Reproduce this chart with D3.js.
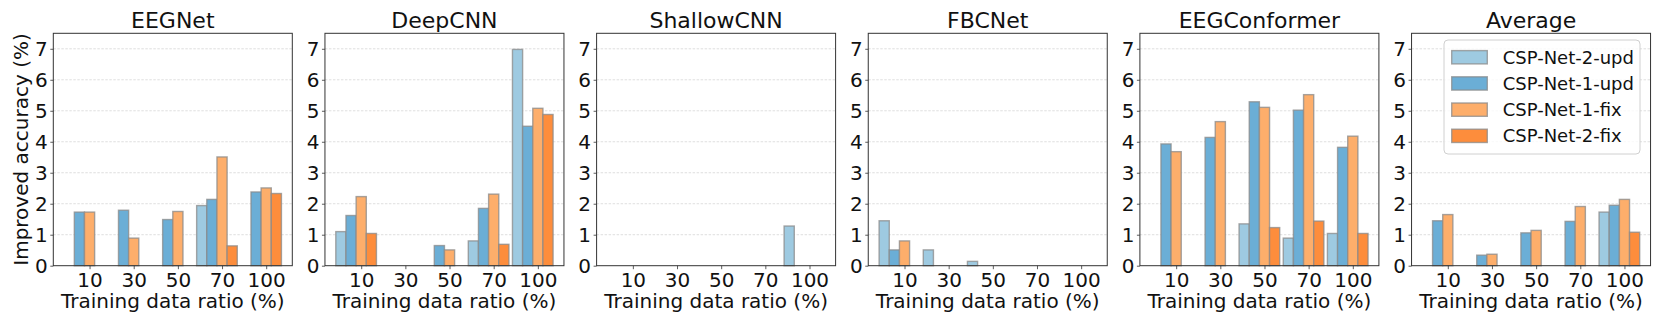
<!DOCTYPE html>
<html>
<head>
<meta charset="utf-8">
<script src="https://cdn.jsdelivr.net/npm/d3@7"></script>
<style>
  body { margin: 0; background: #fff; }
  text { font-family: "DejaVu Sans", sans-serif; fill: #111; }
</style>
</head>
<body>
<div id="chart"></div>
<script>
// categories
const ratios = ['10', '30', '50', '70', '100'];
const seriesNames = ['CSP-Net-2-upd', 'CSP-Net-1-upd', 'CSP-Net-1-fix', 'CSP-Net-2-fix'];
const seriesColors = ['#9ecae1', '#6baed6', '#fdae6b', '#fd8d3c'];
const models = ['EEGNet', 'DeepCNN', 'ShallowCNN', 'FBCNet', 'EEGConformer', 'Average'];
const yTicks = [0, 1, 2, 3, 4, 5, 6, 7];

// improved accuracy per series (rows) and ratio (cols); 0 = below zero / not shown
const eegnetVals = [
  [0, 0, 0, 1.94, 0],
  [1.73, 1.79, 1.49, 2.14, 2.38],
  [1.73, 0.89, 1.75, 3.51, 2.51],
  [0, 0, 0, 0.64, 2.33]
];
const deepcnnVals = [
  [1.10, 0, 0, 0.80, 6.98],
  [1.62, 0, 0.65, 1.85, 4.50],
  [2.23, 0, 0.51, 2.31, 5.08],
  [1.04, 0, 0, 0.69, 4.88]
];
const shallowVals = [
  [0, 0, 0, 0, 1.28],
  [0, 0, 0, 0, 0],
  [0, 0, 0, 0, 0],
  [0, 0, 0, 0, 0]
];
const fbcnetVals = [
  [1.45, 0.51, 0.14, 0, 0],
  [0.51, 0, 0, 0, 0],
  [0.80, 0, 0, 0, 0],
  [0, 0, 0, 0, 0]
];
const conformerVals = [
  [0, 0, 1.35, 0.89, 1.04],
  [3.93, 4.14, 5.29, 5.02, 3.82],
  [3.68, 4.65, 5.11, 5.52, 4.18],
  [0, 0, 1.23, 1.44, 1.04]
];
const averageVals = [
  [0, 0, 0, 0, 1.73],
  [1.45, 0.34, 1.06, 1.43, 1.95],
  [1.65, 0.37, 1.14, 1.91, 2.14],
  [0, 0, 0, 0, 1.08]
];
const allVals = [eegnetVals, deepcnnVals, shallowVals, fbcnetVals, conformerVals, averageVals];

const width = 1661, height = 325;
const panelW = 239, panelH = 232.4, panelTop = 33.3;
const firstLeft = 53.3, step = 271.65;
const barW = 0.23;

const svg = d3.select('#chart')
  .append('svg')
  .attr('width', width)
  .attr('height', height);

// x in "category" units, like matplotlib's auto limits with 5% margin
const x = d3.scaleLinear()
  .domain([-0.821, 4.591])
  .range([0, panelW]);

const y = d3.scaleLinear()
  .domain([0, 7.5])
  .range([panelH, 0]);

models.forEach((name, m) => {
  const g = svg.append('g')
    .attr('transform', `translate(${firstLeft + m * step},${panelTop})`);

  // grid
  g.append('g')
    .selectAll('line')
    .data(yTicks.slice(1))
    .enter().append('line')
    .attr('x1', 0)
    .attr('x2', panelW)
    .attr('y1', d => y(d))
    .attr('y2', d => y(d))
    .attr('stroke', '#b0b0b0')
    .attr('stroke-opacity', 0.5)
    .attr('stroke-width', 0.8)
    .attr('stroke-dasharray', '2.5,1.5');

  // bars
  const bars = [];
  allVals[m].forEach((row, s) => {
    row.forEach((v, i) => {
      if (v > 0) bars.push({ s, i, v });
    });
  });

  g.append('g')
    .selectAll('rect')
    .data(bars)
    .enter().append('rect')
    .attr('x', d => x(d.i + (d.s - 2) * barW - barW / 2))
    .attr('width', x(barW) - x(0))
    .attr('y', d => y(d.v))
    .attr('height', d => y(0) - y(d.v))
    .attr('fill', d => seriesColors[d.s])
    .attr('stroke', '#8a8a8a')
    .attr('stroke-opacity', 0.75)
    .attr('stroke-width', 1.4);

  // axes
  const xAxis = g.append('g')
    .attr('transform', `translate(0,${panelH})`)
    .call(d3.axisBottom(x)
      .tickValues(d3.range(ratios.length))
      .tickFormat(i => ratios[i])
      .tickSize(3.5)
      .tickPadding(3.5));

  const yAxis = g.append('g')
    .call(d3.axisLeft(y)
      .tickValues(yTicks)
      .tickFormat(d3.format('d'))
      .tickSize(3)
      .tickPadding(2.5));

  [xAxis, yAxis].forEach(a => {
    a.select('.domain').remove();
    a.selectAll('line').attr('stroke', '#333').attr('stroke-width', 0.8);
    a.selectAll('text').attr('font-size', 20).style('fill', '#111');
  });

  // frame
  g.append('rect')
    .attr('width', panelW)
    .attr('height', panelH)
    .attr('fill', 'none')
    .attr('stroke', '#333')
    .attr('stroke-width', 1);

  g.append('text')
    .text(name)
    .attr('x', panelW / 2)
    .attr('y', -5.2)
    .attr('font-size', 22)
    .attr('text-anchor', 'middle');

  g.append('text')
    .text('Training data ratio (%)')
    .attr('x', panelW / 2)
    .attr('y', 275)
    .attr('font-size', 20)
    .attr('text-anchor', 'middle');
});

svg.append('text')
  .text('Improved accuracy (%)')
  .attr('transform', `translate(28,${panelTop + panelH / 2}) rotate(-90)`)
  .attr('font-size', 20)
  .attr('text-anchor', 'middle');

// legend in the last panel
const legend = svg.append('g')
  .attr('transform', 'translate(1444,40)');

legend.append('rect')
  .attr('width', 196)
  .attr('height', 114)
  .attr('rx', 4)
  .attr('fill', '#fff')
  .attr('fill-opacity', 0.8)
  .attr('stroke', '#d0d0d0')
  .attr('stroke-width', 1);

const items = legend.selectAll('.item')
  .data(seriesNames)
  .enter().append('g')
  .attr('class', 'item')
  .attr('transform', (d, i) => `translate(0,${17.3 + i * 26.2})`);

items.append('rect')
  .attr('x', 7.7)
  .attr('y', -6.7)
  .attr('width', 35.6)
  .attr('height', 13.3)
  .attr('fill', (d, i) => seriesColors[i])
  .attr('stroke', '#8a8a8a')
  .attr('stroke-opacity', 0.75)
  .attr('stroke-width', 1.4);

items.append('text')
  .text(d => d)
  .attr('x', 58.7)
  .attr('dy', '0.36em')
  .attr('font-size', 18);
</script>
</body>
</html>
